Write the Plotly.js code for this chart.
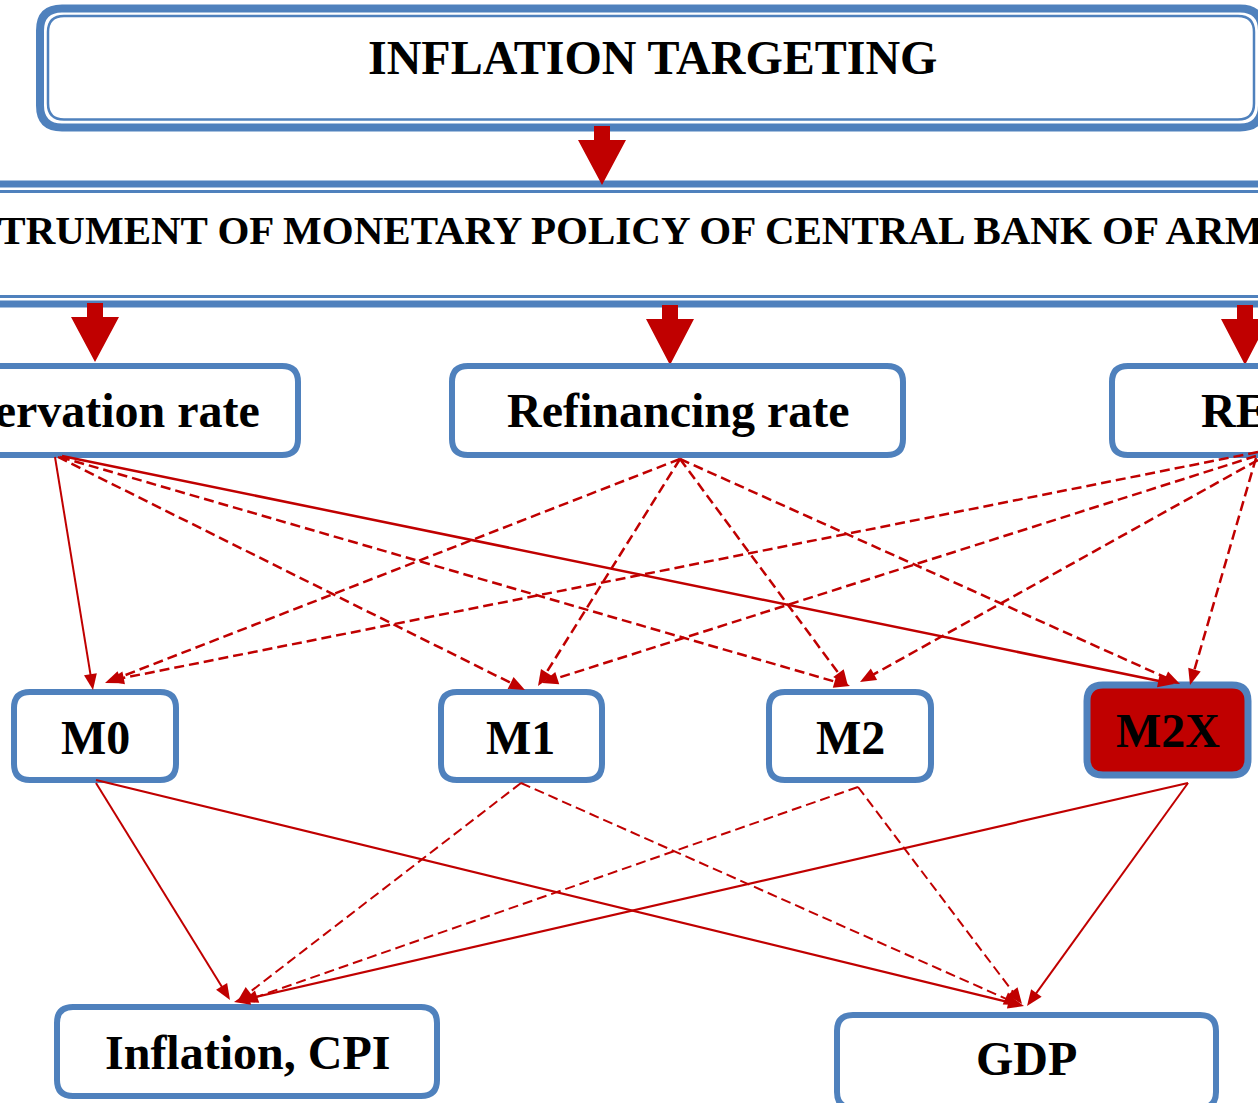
<!DOCTYPE html>
<html>
<head>
<meta charset="utf-8">
<script src="https://cdn.plot.ly/plotly-3.0.1.min.js"></script>
<style>html,body{margin:0;padding:0;background:#fff;}#chart{width:1258px;height:1103px;}</style>
</head>
<body>
<div id="chart"></div>
<script>
// ---- DATA: nodes and links of the diagram ----
const topLabel = 'INFLATION TARGETING';
const bandLabel = 'INSTRUMENT OF MONETARY POLICY OF CENTRAL BANK OF ARMENIA';
const instrumentLabels = ['Reservation rate', 'Refinancing rate', 'REPO rate'];
const aggregateLabels = ['M0', 'M1', 'M2', 'M2X'];
const targetLabels = ['Inflation, CPI', 'GDP'];

const linkFrom = ['Reservation rate','Reservation rate','Reservation rate','Reservation rate',
                  'Refinancing rate','Refinancing rate','Refinancing rate','Refinancing rate',
                  'REPO rate','REPO rate','REPO rate','REPO rate',
                  'M0','M0','M1','M1','M2','M2','M2X','M2X'];
const linkTo   = ['M0','M1','M2','M2X','M0','M1','M2','M2X','M0','M1','M2','M2X',
                  'Inflation, CPI','GDP','Inflation, CPI','GDP','Inflation, CPI','GDP','Inflation, CPI','GDP'];
const linkSolid = [true,false,false,true, false,false,false,false, false,false,false,false,
                   true,true,false,false,false,false,true,true];

// ---- LAYOUT GEOMETRY (pixel space) ----
const BLUE = '#4F81BD', RED = '#C00000';
const FONT = 'Liberation Serif, Times New Roman, serif';

const boxGeom = {
  'Reservation rate': {x0:-160, y0:366, x1:298, y1:455, tx:262, ty:410, anchor:'right', size:48},
  'Refinancing rate': {x0:452, y0:366, x1:903, y1:455, tx:678, ty:410, anchor:'center', size:48},
  'REPO rate':        {x0:1112, y0:366, x1:1560, y1:455, tx:1199, ty:410, anchor:'left', size:48},
  'M0':  {x0:14,  y0:692, x1:176, y1:780, tx:95,  ty:737, anchor:'center', size:48},
  'M1':  {x0:441, y0:692, x1:602, y1:780, tx:520, ty:737, anchor:'center', size:48},
  'M2':  {x0:769, y0:692, x1:931, y1:780, tx:850, ty:737, anchor:'center', size:48},
  'M2X': {x0:1087,y0:685, x1:1248,y1:775, tx:1168,ty:730, anchor:'center', size:48, fill:RED, w:7},
  'Inflation, CPI': {x0:57, y0:1007, x1:437, y1:1096, tx:247, ty:1052, anchor:'center', size:48},
  'GDP': {x0:837, y0:1015, x1:1216, y1:1108, tx:1026, ty:1058, anchor:'center', size:48}
};
// start/end points of each link (same order as linkFrom/linkTo)
const linkPts = [
  [55,457,93,690],[58,457,525,690],[60,457,850,686],[62,456,1174,684],
  [680,459,105,683],[680,459,538,686],[680,459,848,686],[680,459,1180,684],
  [1258,452,108,681],[1256,456,542,683],[1258,460,860,682],[1256,458,1190,685],
  [96,783,230,1000],[96,780,1024,1006],[521,783,237,1002],[521,783,1020,1005],
  [858,787,242,1002],[858,787,1022,1004],[1188,783,234,1002],[1188,783,1027,1006]
];
const linkWidth = [2,2.5,2.5,2.5, 2.5,2.5,2.5,2.5, 2.5,2.5,2.5,2.5, 2,2.2,2,2,2,2,2.2,2];
const blockArrows = [
  {x:602, y0:126, yh:140, y1:185},
  {x:95,  y0:303, yh:317, y1:362},
  {x:670, y0:305, yh:319, y1:365},
  {x:1245,y0:305, yh:319, y1:365}
];

function rr(x0,y0,x1,y1,r){
  return `M${x0+r},${y0} H${x1-r} Q${x1},${y0} ${x1},${y0+r} V${y1-r} Q${x1},${y1} ${x1-r},${y1} H${x0+r} Q${x0},${y1} ${x0},${y1-r} V${y0+r} Q${x0},${y0} ${x0+r},${y0} Z`;
}

const shapes = [];
const annotations = [];

// top box (double border)
shapes.push({type:'path', xref:'x', yref:'y', path:rr(40,8.5,1262,127.5,22), line:{color:BLUE,width:8}, fillcolor:'white'});
shapes.push({type:'path', xref:'x', yref:'y', path:rr(48,16,1254,119.5,16), line:{color:BLUE,width:2.5}, fillcolor:'rgba(0,0,0,0)'});
annotations.push({xref:'x', yref:'y', x:652, y:57, text:'<b>'+topLabel+'</b>', showarrow:false,
  font:{family:FONT, size:48, color:'black'}, xanchor:'center', yanchor:'middle'});

// band (double lines)
[[184,7],[191.5,3],[296.5,3],[304,7]].forEach(([y,w])=>{
  shapes.push({type:'line', xref:'x', yref:'y', x0:-10, x1:1270, y0:y, y1:y, line:{color:BLUE,width:w}});
});
annotations.push({xref:'paper', yref:'y', x:-72/1258, y:230, text:'<b>'+bandLabel+'</b>', showarrow:false,
  font:{family:FONT, size:41, color:'black'}, xanchor:'left', yanchor:'middle'});

// block arrows
blockArrows.forEach(a=>{
  shapes.push({type:'path', xref:'x', yref:'y', line:{width:0},fillcolor:RED,
    path:`M${a.x-8},${a.y0} H${a.x+8} V${a.yh} H${a.x+24} L${a.x},${a.y1} L${a.x-24},${a.yh} H${a.x-8} Z`});
});

// boxes
const allBoxes = instrumentLabels.concat(aggregateLabels, targetLabels);
allBoxes.forEach(lbl=>{
  const g = boxGeom[lbl];
  shapes.push({type:'path', xref:'x', yref:'y', path:rr(g.x0,g.y0,g.x1,g.y1,16),
    line:{color:BLUE,width:g.w||6}, fillcolor:g.fill||'white'});
  annotations.push({xref:'x', yref:'y', x:g.tx, y:g.ty, text:'<b>'+lbl+'</b>', showarrow:false,
    font:{family:FONT, size:g.size, color:'black'}, xanchor:g.anchor, yanchor:'middle'});
});

// links with arrowheads
linkFrom.forEach((f,i)=>{
  const [x0,y0,x1,y1] = linkPts[i];
  const dx = x1-x0, dy = y1-y0, L = Math.hypot(dx,dy);
  const ux = dx/L, uy = dy/L, hl = 16, hw = 6.5;
  const bx = x1-ux*hl, by = y1-uy*hl;
  shapes.push({type:'line', xref:'x', yref:'y', x0:x0, y0:y0, x1:bx+ux*2, y1:by+uy*2,
    line:{color:RED, width:linkWidth[i], dash: linkSolid[i] ? 'solid' : '10px,5px'}});
  shapes.push({type:'path', xref:'x', yref:'y', line:{width:0}, fillcolor:RED,
    path:`M${x1},${y1} L${bx-uy*hw},${by+ux*hw} L${bx+uy*hw},${by-ux*hw} Z`});
});

const layout = {
  width:1258, height:1103,
  margin:{l:0,r:0,t:0,b:0},
  paper_bgcolor:'white', plot_bgcolor:'white',
  xaxis:{range:[0,1258], visible:false, fixedrange:true},
  yaxis:{range:[1103,0], visible:false, fixedrange:true},
  showlegend:false,
  shapes:shapes,
  annotations:annotations
};
Plotly.newPlot('chart', [], layout, {staticPlot:true, displayModeBar:false});
</script>
</body>
</html>
